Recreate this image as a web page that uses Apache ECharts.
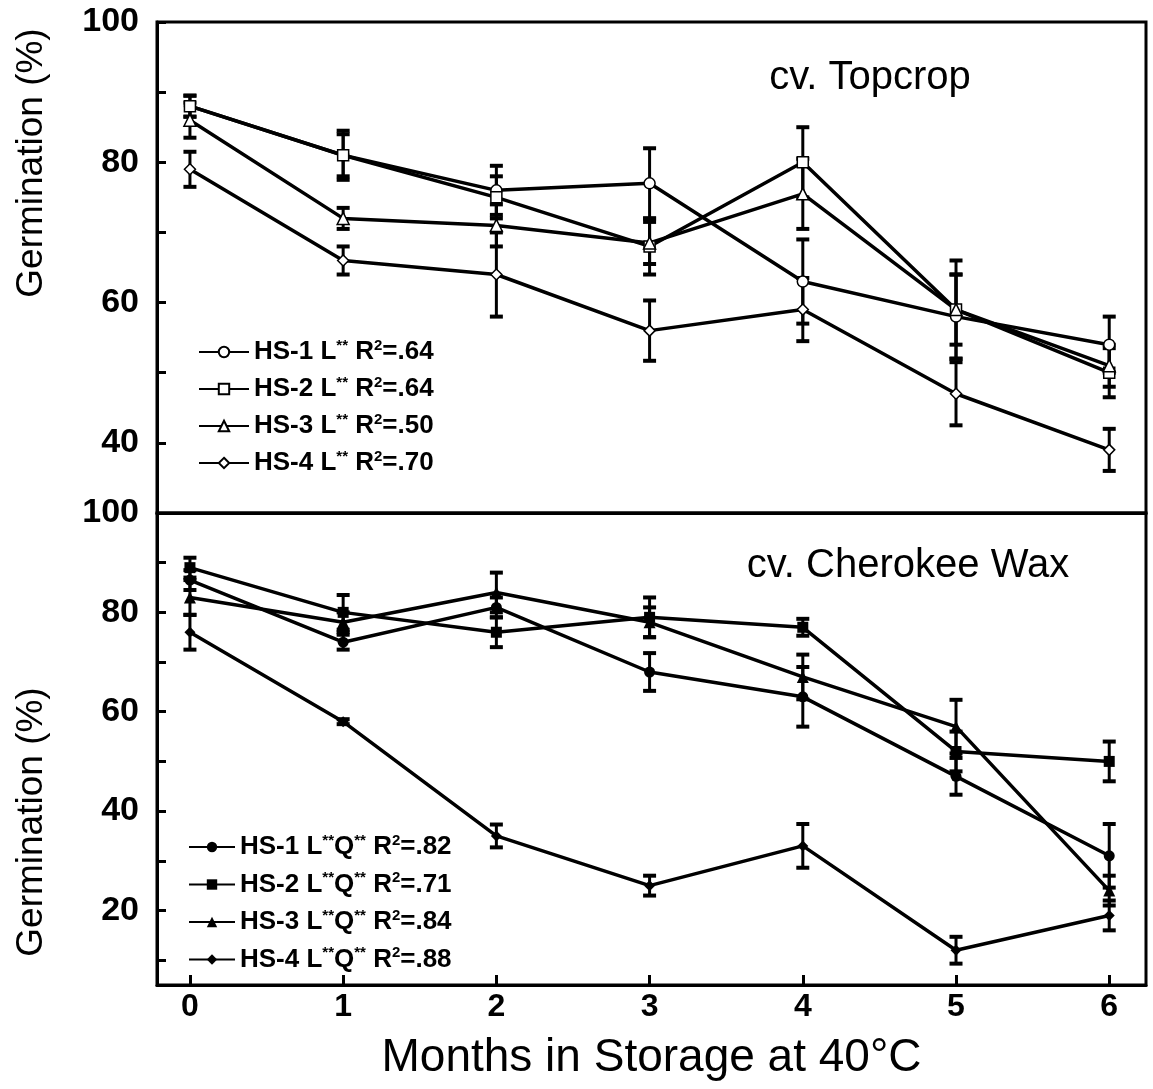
<!DOCTYPE html>
<html>
<head>
<meta charset="utf-8">
<script src="https://cdn.jsdelivr.net/npm/echarts@6/dist/echarts.min.js"></script>
<style>
    html, body { margin: 0; padding: 0; background: #fff; }
    #chart { width: 1153px; height: 1089px; }
</style>
</head>
<body>
<div id="chart"></div>
<script>
    // months in storage
    var months = [0, 1, 2, 3, 4, 5, 6];

    // cv. Topcrop (open symbols)
    var topNames = ['HS-1 L** R2=.64', 'HS-2 L** R2=.64', 'HS-3 L** R2=.50', 'HS-4 L** R2=.70'];
    var topHS1 = [88, 81, 76, 77, 63, 58, 54];
    var topHS2 = [88, 81, 75, 68, 80, 59, 50];
    var topHS3 = [86, 72, 71, 68.5, 75.5, 59, 51];
    var topHS4 = [79, 66, 64, 56, 59, 47, 39];
    var topErr1 = [1.5, 3.5, 3.5, 5, 6, 6, 4];
    var topErr2 = [1.5, 3, 3, 4, 5, 7, 3.5];
    var topErr3 = [2.5, 1.5, 3, 3, 5, 5, 3];
    var topErr4 = [2.5, 2, 6, 4.3, 4.5, 4.5, 3];

    // cv. Cherokee Wax (filled symbols)
    var botNames = ['HS-1 L**Q** R2=.82', 'HS-2 L**Q** R2=.71', 'HS-3 L**Q** R2=.84', 'HS-4 L**Q** R2=.88'];
    var botHS1 = [86.5, 74, 81, 68, 63, 47, 31];
    var botHS2 = [89, 80, 76, 79, 77, 52, 50];
    var botHS3 = [83, 78, 84, 78, 67, 57, 24];
    var botHS4 = [76, 58, 35, 25, 33, 12, 19];
    var botErr1 = [2, 1.5, 2, 3.8, 6, 3.7, 6.4];
    var botErr2 = [2, 3.5, 3, 4, 1.7, 4, 4];
    var botErr3 = [3.5, 2, 4, 3, 4.5, 5.4, 3];
    var botErr4 = [3.5, 0.5, 2.3, 2, 4.4, 2.7, 3];

    var yTickBot = [10, 20, 30, 40, 50, 60, 70, 80, 90, 100];
    var yLabelBot = [20, 40, 60, 80, 100];

    var font = 'Liberation Sans';

    function errData(vals, errs) {
        var out = [];
        for (var i = 0; i < months.length; i++) {
            out.push([months[i], vals[i] - errs[i], vals[i] + errs[i]]);
        }
        return out;
    }

    function pairs(vals) {
        var out = [];
        for (var i = 0; i < months.length; i++) {
            out.push([months[i], vals[i]]);
        }
        return out;
    }

    function renderErrorBar(params, api) {
        var x = api.value(0);
        var pLo = api.coord([x, api.value(1)]);
        var pHi = api.coord([x, api.value(2)]);
        var w = 6.5;
        return {
            type: 'group',
            children: [
                { type: 'line', shape: { x1: pLo[0], y1: pLo[1], x2: pHi[0], y2: pHi[1] }, style: { stroke: '#000', lineWidth: 3 } },
                { type: 'line', shape: { x1: pLo[0] - w, y1: pLo[1], x2: pLo[0] + w, y2: pLo[1] }, style: { stroke: '#000', lineWidth: 4 } },
                { type: 'line', shape: { x1: pHi[0] - w, y1: pHi[1], x2: pHi[0] + w, y2: pHi[1] }, style: { stroke: '#000', lineWidth: 4 } }
            ]
        };
    }

    function lineSeries(name, vals, symbol, open, gridIdx) {
        return {
            name: name,
            type: 'line',
            xAxisIndex: gridIdx,
            yAxisIndex: gridIdx,
            data: pairs(vals),
            symbol: symbol,
            symbolSize: symbol === 'triangle' ? 12 : 11,
            z: 3,
            lineStyle: { color: '#000', width: 3.5 },
            itemStyle: {
                color: open ? '#fff' : '#000',
                borderColor: '#000',
                borderWidth: open ? 1.5 : 0
            }
        };
    }

    function errSeries(vals, errs, gridIdx) {
        return {
            type: 'custom',
            xAxisIndex: gridIdx,
            yAxisIndex: gridIdx,
            data: errData(vals, errs),
            encode: { x: 0, y: [1, 2] },
            renderItem: renderErrorBar,
            z: 2
        };
    }

    function legendText(name) {
        return name.replace(/\*\*/g, '{s|**}').replace('R2', 'R{s|2}');
    }

    var legendRich = {
        s: { fontSize: 15, fontWeight: 'bold', fontFamily: font, verticalAlign: 'top', color: '#000' }
    };

    var symbols = ['circle', 'rect', 'triangle', 'diamond'];

    var chart = echarts.init(document.getElementById('chart'));

    var option = {
        animation: false,
        backgroundColor: '#fff',
        grid: [
            { left: 157, right: 7, top: 22, height: 491, show: true, borderColor: '#000', borderWidth: 3 },
            { left: 157, right: 7, top: 513, height: 472, show: true, borderColor: '#000', borderWidth: 3 }
        ],
        xAxis: [
            {
                type: 'value', gridIndex: 0, min: -0.215, max: 6.24,
                axisLine: { onZero: false, lineStyle: { color: '#000', width: 3 } },
                axisTick: { show: false },
                axisLabel: { show: false },
                splitLine: { show: false }
            },
            {
                type: 'value', gridIndex: 1, min: -0.215, max: 6.24,
                name: 'Months in Storage at 40°C',
                nameLocation: 'middle',
                nameGap: 50,
                nameTextStyle: { fontSize: 46, fontFamily: font, color: '#000' },
                axisLine: { onZero: false, lineStyle: { color: '#000', width: 3 } },
                axisTick: { inside: true, length: 10, lineStyle: { color: '#000', width: 3 }, customValues: months },
                axisLabel: { fontSize: 32, fontWeight: 'bold', fontFamily: font, color: '#000', margin: 6, customValues: months },
                splitLine: { show: false }
            }
        ],
        yAxis: [
            {
                type: 'value', gridIndex: 0, min: 30, max: 100, interval: 10,
                axisLine: { onZero: false, lineStyle: { color: '#000', width: 3 } },
                axisTick: { inside: true, length: 9, lineStyle: { color: '#000', width: 3 } },
                axisLabel: {
                    fontSize: 34, fontWeight: 'bold', fontFamily: font, color: '#000', margin: 18,
                    formatter: function (v) { return (v % 20 === 0 && v > 30) ? v : ''; }
                },
                splitLine: { show: false }
            },
            {
                type: 'value', gridIndex: 1, min: 5, max: 100,
                axisLine: { onZero: false, lineStyle: { color: '#000', width: 3 } },
                axisTick: { inside: true, length: 9, lineStyle: { color: '#000', width: 3 }, customValues: yTickBot },
                axisLabel: { fontSize: 34, fontWeight: 'bold', fontFamily: font, color: '#000', margin: 18, customValues: yLabelBot },
                splitLine: { show: false }
            }
        ],
        legend: [
            {
                data: topNames,
                orient: 'vertical',
                left: 193, top: 333,
                itemWidth: 50, itemHeight: 13, itemGap: 9,
                formatter: legendText,
                textStyle: { fontSize: 26, fontWeight: 'bold', fontFamily: font, color: '#000', lineHeight: 28, rich: legendRich }
            },
            {
                data: botNames,
                orient: 'vertical',
                left: 183, top: 828,
                itemWidth: 46, itemHeight: 13, itemGap: 9.5,
                formatter: legendText,
                textStyle: { fontSize: 26, fontWeight: 'bold', fontFamily: font, color: '#000', lineHeight: 28, rich: legendRich }
            }
        ],
        graphic: [
            { type: 'text', x: 32, y: 163, rotation: Math.PI / 2,
              style: { text: 'Germination (%)', fontSize: 37, fontFamily: font, fill: '#000', align: 'center', verticalAlign: 'middle' } },
            { type: 'text', x: 32, y: 822, rotation: Math.PI / 2,
              style: { text: 'Germination (%)', fontSize: 37, fontFamily: font, fill: '#000', align: 'center', verticalAlign: 'middle' } },
            { type: 'text', x: 870, y: 78,
              style: { text: 'cv. Topcrop', fontSize: 40, fontFamily: font, fill: '#000', align: 'center', verticalAlign: 'middle' } },
            { type: 'text', x: 908, y: 566,
              style: { text: 'cv. Cherokee Wax', fontSize: 40, fontFamily: font, fill: '#000', align: 'center', verticalAlign: 'middle' } }
        ],
        series: [
            errSeries(topHS1, topErr1, 0),
            errSeries(topHS2, topErr2, 0),
            errSeries(topHS3, topErr3, 0),
            errSeries(topHS4, topErr4, 0),
            lineSeries(topNames[0], topHS1, symbols[0], true, 0),
            lineSeries(topNames[1], topHS2, symbols[1], true, 0),
            lineSeries(topNames[2], topHS3, symbols[2], true, 0),
            lineSeries(topNames[3], topHS4, symbols[3], true, 0),
            errSeries(botHS1, botErr1, 1),
            errSeries(botHS2, botErr2, 1),
            errSeries(botHS3, botErr3, 1),
            errSeries(botHS4, botErr4, 1),
            lineSeries(botNames[0], botHS1, symbols[0], false, 1),
            lineSeries(botNames[1], botHS2, symbols[1], false, 1),
            lineSeries(botNames[2], botHS3, symbols[2], false, 1),
            lineSeries(botNames[3], botHS4, symbols[3], false, 1)
        ]
    };

    chart.setOption(option);
</script>
</body>
</html>
